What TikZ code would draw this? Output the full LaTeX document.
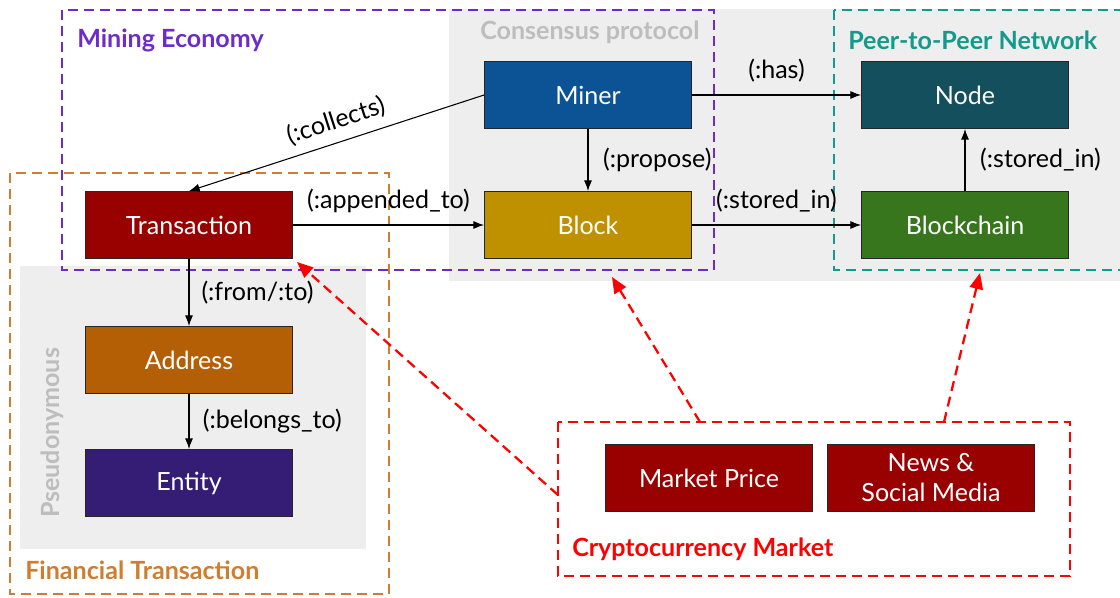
\documentclass[tikz,border=0pt]{standalone}
\usepackage{fontspec}
\setmainfont{Lato}
\usetikzlibrary{positioning,arrows.meta}
\definecolor{bgray}{HTML}{EEEEEE}
\definecolor{lgray}{HTML}{BDBDBD}
\definecolor{minerc}{HTML}{0B5394}
\definecolor{blockc}{HTML}{BF9000}
\definecolor{nodec}{HTML}{134F5C}
\definecolor{chainc}{HTML}{38761D}
\definecolor{darkred}{HTML}{990000}
\definecolor{addrc}{HTML}{B45F06}
\definecolor{entityc}{HTML}{351C75}
\definecolor{mining}{HTML}{6B2CC8}
\definecolor{finance}{HTML}{CF7D2E}
\definecolor{p2p}{HTML}{14998A}
\definecolor{market}{HTML}{FF0000}

\begin{document}
\begin{tikzpicture}[x=0.75pt,y=-0.75pt,
  box/.style={draw=black!85, line width=0.9pt, fill=#1, text=white,
    minimum width=155pt, minimum height=50pt, align=center,
    font=\fontsize{18.8}{22.5}\selectfont},
  rel/.style={-{Latex[length=8pt,width=6pt]}, line width=0.8pt},
  lbl/.style={font=\fontsize{18.8}{22.5}\selectfont, inner sep=4pt},
  grp/.style={draw=#1, line width=1.7pt, dash pattern=on 7.5pt off 4.5pt},
  grplbl/.style={text=#1, anchor=west, inner sep=0pt, font=\bfseries\fontsize{18.8}{22.5}\selectfont},
  infl/.style={draw=market, line width=1.7pt, dash pattern=on 7.5pt off 4.5pt,
    -{Triangle[length=12pt,width=10pt]}}]
\useasboundingbox (0,0) rectangle (1120,597);

% shaded areas
\fill[bgray] (449,9) rectangle (1120,281);
\fill[bgray] (20,266) rectangle (366,549);
\node[grplbl=lgray] (consensus) at (480,32) {Consensus protocol};
\node[grplbl=lgray, rotate=90, anchor=center] (pseudo) at (52,433) {Pseudonymous};

% groups
\draw[grp=mining] (62,10) rectangle (714,270);
\draw[grp=finance] (10,173) rectangle (389,594);
\draw[grp=p2p] (834,10) rectangle (1135,270);
\draw[grp=market] (558,422) rectangle (1070,576);
\node[grplbl=mining] (miningl) at (77,40) {Mining Economy};
\node[grplbl=finance] (financel) at (25,570) {Financial Transaction};
\node[grplbl=p2p] (p2pl) at (848,40) {Peer-to-Peer Network};
\node[grplbl=market] (marketl) at (572,549) {Cryptocurrency Market};

% entities
\node[box=minerc] (miner) at (588,95) {Miner};
\node[box=blockc] (block) at (588,225) {Block};
\node[box=nodec] (peer) at (965,95) {Node};
\node[box=chainc] (chain) at (965,225) {Blockchain};
\node[box=darkred] (trans) at (189,225) {Transaction};
\node[box=addrc] (addr) at (189,360) {Address};
\node[box=entityc] (ent) at (189,483) {Entity};
\node[box=darkred] (price) at (709,478) {Market Price};
\node[box=darkred] (news) at (931,478) {News \&\\Social Media};

% relations
\draw[rel] (miner.west) -- (trans.north) node[lbl, pos=0.48, above=3pt, sloped] {(:collects)};
\draw[rel] (miner) -- (block) node[lbl, midway, right=7pt] {(:propose)};
\draw[rel] (miner) -- (peer) node[lbl, midway, above=5pt] {(:has)};
\draw[rel] (trans) -- (block) node[lbl, midway, above=5pt] {(:appended\_to)};
\draw[rel] (block) -- (chain) node[lbl, midway, above=5pt] {(:stored\_in)};
\draw[rel] (chain) -- (peer) node[lbl, midway, right=7pt] {(:stored\_in)};
\draw[rel] (trans) -- (addr) node[lbl, midway, right=5pt] {(:from/:to)};
\draw[rel] (addr) -- (ent) node[lbl, midway, right=6pt] {(:belongs\_to)};

% market influence
\coordinate (m1) at (558,495);
\coordinate (m2) at (700,422);
\coordinate (m3) at (944,422);
\coordinate (t1) at (297,262);
\coordinate (t2) at (612,277);
\coordinate (t3) at (980,273);
\foreach \a/\b in {m1/t1,m2/t2,m3/t3}{
  \draw[infl] (\a) -- (\b);
}
\end{tikzpicture}
\end{document}
